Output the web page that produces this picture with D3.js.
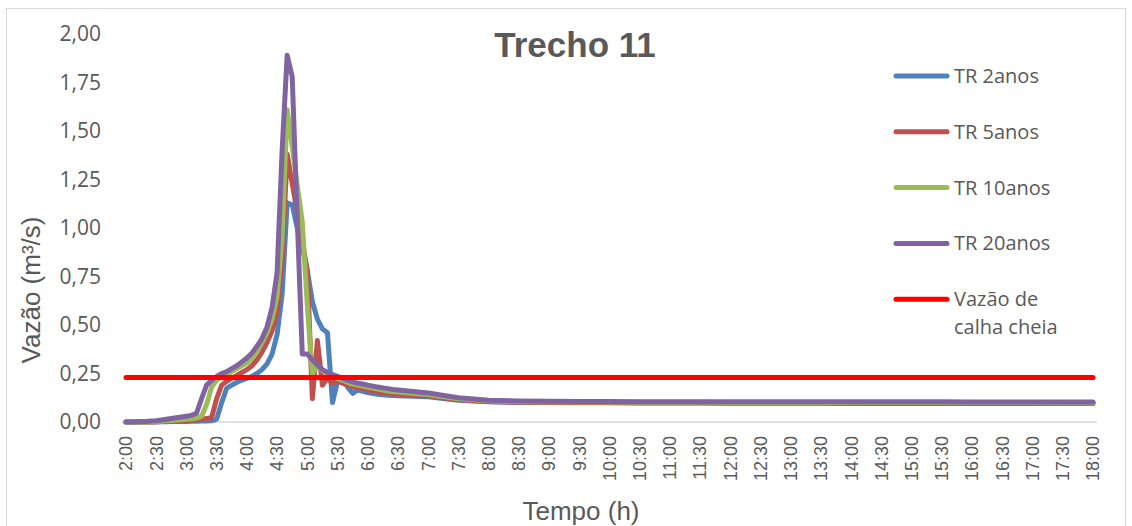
<!DOCTYPE html>
<html>
<head>
<meta charset="utf-8">
<script src="https://cdn.jsdelivr.net/npm/d3@7"></script>
<style>
  html, body { margin: 0; padding: 0; background: #fff; }
  svg { display: block; }
</style>
</head>
<body>
<div id="chart"></div>
<script>
// eixo x: instantes das leituras (5 min no pico, 30 min na cauda)
var tempos = [
  '2:00','2:05','2:10','2:15','2:20','2:25','2:30','2:35','2:40','2:45','2:50','2:55',
  '3:00','3:05','3:10','3:15','3:20','3:25','3:30','3:35','3:40','3:45','3:50','3:55',
  '4:00','4:05','4:10','4:15','4:20','4:25','4:30','4:35','4:40','4:45','4:50','4:55',
  '5:00','5:05','5:10','5:15','5:20','5:25','5:30','5:35','5:40','5:45','5:50','5:55',
  '6:00','6:05','6:10','6:15','6:20','6:25','6:30',
  '7:00','7:30','8:00','8:30','9:00','9:30','10:00','10:30','11:00','11:30','12:00','12:30',
  '13:00','13:30','14:00','14:30','15:00','15:30','16:00','16:30','17:00','17:30','18:00'
]

// rótulos do eixo x
var rotulosX = [
  '2:00','2:30','3:00','3:30','4:00','4:30','5:00','5:30','6:00','6:30','7:00','7:30',
  '8:00','8:30','9:00','9:30','10:00','10:30','11:00','11:30','12:00','12:30','13:00',
  '13:30','14:00','14:30','15:00','15:30','16:00','16:30','17:00','17:30','18:00'
]

// rótulos do eixo y
var rotulosY = [0, 0.25, 0.5, 0.75, 1, 1.25, 1.5, 1.75, 2]

// vazões (m³/s) por tempo de retorno
var tr2 = [
  0, 0, 0, 0, 0, 0, 0, 0.001, 0.001, 0.002, 0.002, 0.003,
  0.003, 0.004, 0.004, 0.005, 0.005, 0.006, 0.015, 0.10, 0.175, 0.19, 0.205, 0.215,
  0.225, 0.235, 0.25, 0.27, 0.30, 0.35, 0.45, 0.66, 1.13, 1.12, 1.0, 0.9,
  0.78, 0.62, 0.53, 0.48, 0.46, 0.10, 0.21, 0.225, 0.18, 0.148, 0.165, 0.158,
  0.152, 0.147, 0.143, 0.14, 0.138, 0.136, 0.135,
  0.13, 0.112, 0.104, 0.101, 0.1, 0.099, 0.099, 0.098, 0.098, 0.098, 0.097, 0.097,
  0.097, 0.097, 0.096, 0.096, 0.096, 0.096, 0.095, 0.095, 0.095, 0.095, 0.095
]
var tr5 = [
  0, 0, 0, 0, 0, 0, 0.001, 0.002, 0.003, 0.004, 0.005, 0.006,
  0.007, 0.009, 0.011, 0.014, 0.018, 0.022, 0.12, 0.19, 0.21, 0.225, 0.24, 0.255,
  0.27, 0.29, 0.32, 0.36, 0.41, 0.47, 0.57, 0.84, 1.38, 1.23, 1.08, 0.93,
  0.78, 0.12, 0.42, 0.19, 0.225, 0.20, 0.21, 0.20, 0.19, 0.182, 0.176, 0.17,
  0.165, 0.16, 0.156, 0.152, 0.149, 0.146, 0.143,
  0.135, 0.115, 0.106, 0.102, 0.101, 0.1, 0.1, 0.099, 0.099, 0.099, 0.098, 0.098,
  0.098, 0.098, 0.098, 0.097, 0.097, 0.097, 0.097, 0.097, 0.097, 0.097, 0.096
]
var tr10 = [
  0, 0, 0, 0, 0, 0, 0.002, 0.004, 0.006, 0.008, 0.01, 0.012,
  0.014, 0.017, 0.02, 0.03, 0.09, 0.18, 0.215, 0.235, 0.245, 0.26, 0.275, 0.29,
  0.305, 0.33, 0.36, 0.41, 0.46, 0.53, 0.65, 0.95, 1.61, 1.42, 1.22, 1.03,
  0.60, 0.25, 0.285, 0.265, 0.25, 0.235, 0.225, 0.215, 0.205, 0.195, 0.19, 0.185,
  0.18, 0.175, 0.17, 0.165, 0.16, 0.157, 0.154,
  0.142, 0.12, 0.109, 0.105, 0.104, 0.103, 0.103, 0.102, 0.102, 0.102, 0.101, 0.101,
  0.101, 0.101, 0.1, 0.1, 0.1, 0.1, 0.1, 0.1, 0.1, 0.099, 0.099
]
var tr20 = [
  0, 0, 0.001, 0.002, 0.003, 0.005, 0.007, 0.01, 0.014, 0.018, 0.022, 0.026,
  0.03, 0.034, 0.045, 0.12, 0.19, 0.215, 0.235, 0.25, 0.26, 0.275, 0.29, 0.31,
  0.33, 0.355, 0.39, 0.43, 0.49, 0.59, 0.77, 1.40, 1.89, 1.78, 1.05, 0.35,
  0.35, 0.32, 0.295, 0.27, 0.255, 0.245, 0.235, 0.225, 0.215, 0.207, 0.2, 0.196,
  0.19, 0.185, 0.18, 0.176, 0.172, 0.168, 0.165,
  0.15, 0.125, 0.112, 0.108, 0.107, 0.106, 0.106, 0.105, 0.105, 0.105, 0.105, 0.105,
  0.104, 0.104, 0.104, 0.104, 0.104, 0.104, 0.103, 0.103, 0.103, 0.103, 0.103
]
// vazão de calha cheia (constante)
var vazaoCalha = 0.23

var nomesSeries = ['TR 2anos', 'TR 5anos', 'TR 10anos', 'TR 20anos']
var coresSeries = ['#4f81bd', '#c0504d', '#9bbb59', '#8064a2']
var corCalha = '#ff0000'

/**
 *  configuração de layout
 */
var config = {
  width: 1132,
  height: 526,
  plot: { left: 126, right: 1093, top: 34, bottom: 422 },
  textColor: '#595959',
  lineWidth: 5
}

// "4:35" -> minutos
function toMin(s) {
  var p = s.split(':')
  return +p[0] * 60 + +p[1]
}

function fmtY(v) {
  return d3.format('.2f')(v).replace('.', ',')
}

function drawCharts(id) {
  var svg = d3.select(id).append('svg')
    .attr('width', config.width)
    .attr('height', config.height)

  // borda da área do gráfico
  svg.append('rect')
    .attr('x', 6.5).attr('y', 8.5)
    .attr('width', 1119).attr('height', 540)
    .attr('fill', 'none')
    .attr('stroke', '#d9d9d9')
    .attr('stroke-width', 1)

  var x = d3.scaleLinear()
    .domain([toMin(rotulosX[0]), toMin(rotulosX[rotulosX.length - 1])])
    .range([config.plot.left, config.plot.right])
  var y = d3.scaleLinear()
    .domain([0, 2])
    .range([config.plot.bottom, config.plot.top])

  // linha base do eixo x
  svg.append('line')
    .attr('x1', config.plot.left - 4).attr('x2', config.plot.right + 4)
    .attr('y1', y(0)).attr('y2', y(0))
    .attr('stroke', '#d9d9d9')
    .attr('stroke-width', 1.5)

  // rótulos y
  svg.append('g')
    .selectAll('text')
    .data(rotulosY)
    .enter()
    .append('text')
    .attr('x', 101)
    .attr('y', function(d) { return y(d) })
    .attr('dy', '0.35em')
    .attr('text-anchor', 'end')
    .attr('font-family', '"Open Sans", sans-serif')
    .attr('font-size', 21)
    .attr('fill', config.textColor)
    .text(fmtY)

  // rótulos x (rotacionados)
  svg.append('g')
    .selectAll('text')
    .data(rotulosX)
    .enter()
    .append('text')
    .attr('transform', function(d) {
      return 'translate(' + x(toMin(d)) + ',436) rotate(-90)'
    })
    .attr('dy', '0.35em')
    .attr('text-anchor', 'end')
    .attr('font-family', '"Liberation Sans", Arial, sans-serif')
    .attr('font-size', 18)
    .attr('fill', config.textColor)
    .text(function(d) { return d })

  // títulos
  svg.append('text')
    .attr('x', 575).attr('y', 57)
    .attr('text-anchor', 'middle')
    .attr('font-family', '"Liberation Sans", Arial, sans-serif')
    .attr('font-weight', 'bold')
    .attr('font-size', 35)
    .attr('fill', config.textColor)
    .text('Trecho 11')

  svg.append('text')
    .attr('transform', 'translate(40,290) rotate(-90)')
    .attr('text-anchor', 'middle')
    .attr('font-family', '"Liberation Sans", Arial, sans-serif')
    .attr('font-size', 26)
    .attr('fill', config.textColor)
    .text('Vazão (m³/s)')

  svg.append('text')
    .attr('x', 581).attr('y', 520)
    .attr('text-anchor', 'middle')
    .attr('font-family', '"Liberation Sans", Arial, sans-serif')
    .attr('font-size', 26)
    .attr('fill', config.textColor)
    .text('Tempo (h)')

  // séries
  var series = [tr2, tr5, tr10, tr20]
  var line = d3.line()
    .x(function(d, i) { return x(toMin(tempos[i])) })
    .y(function(d) { return y(d) })

  svg.append('g')
    .selectAll('path')
    .data(series)
    .enter()
    .append('path')
    .attr('d', line)
    .attr('fill', 'none')
    .attr('stroke', function(d, i) { return coresSeries[i] })
    .attr('stroke-width', config.lineWidth)
    .attr('stroke-linejoin', 'round')
    .attr('stroke-linecap', 'round')

  // calha cheia
  svg.append('line')
    .attr('x1', x(toMin(tempos[0])))
    .attr('x2', x(toMin(tempos[tempos.length - 1])))
    .attr('y1', y(vazaoCalha)).attr('y2', y(vazaoCalha))
    .attr('stroke', corCalha)
    .attr('stroke-width', config.lineWidth)
    .attr('stroke-linecap', 'round')

  // legenda
  var itens = nomesSeries.map(function(n, i) {
    return { nome: [n], cor: coresSeries[i] }
  })
  itens.push({ nome: ['Vazão de', 'calha cheia'], cor: corCalha })

  var leg = svg.append('g')
    .selectAll('g')
    .data(itens)
    .enter()
    .append('g')
    .attr('transform', function(d, i) {
      return 'translate(0,' + (76 + i * 55.8) + ')'
    })
  leg.append('line')
    .attr('x1', 896).attr('x2', 947)
    .attr('stroke', function(d) { return d.cor })
    .attr('stroke-width', 5)
    .attr('stroke-linecap', 'round')
  leg.append('text')
    .attr('x', 954)
    .attr('y', 7)
    .attr('font-family', '"Open Sans", sans-serif')
    .attr('font-size', 20)
    .attr('fill', config.textColor)
    .selectAll('tspan')
    .data(function(d) { return d.nome })
    .enter()
    .append('tspan')
    .attr('x', 954)
    .attr('dy', function(d, i) { return i ? 28 : 0 })
    .text(function(d) { return d })
}

drawCharts('#chart')
</script>
</body>
</html>
